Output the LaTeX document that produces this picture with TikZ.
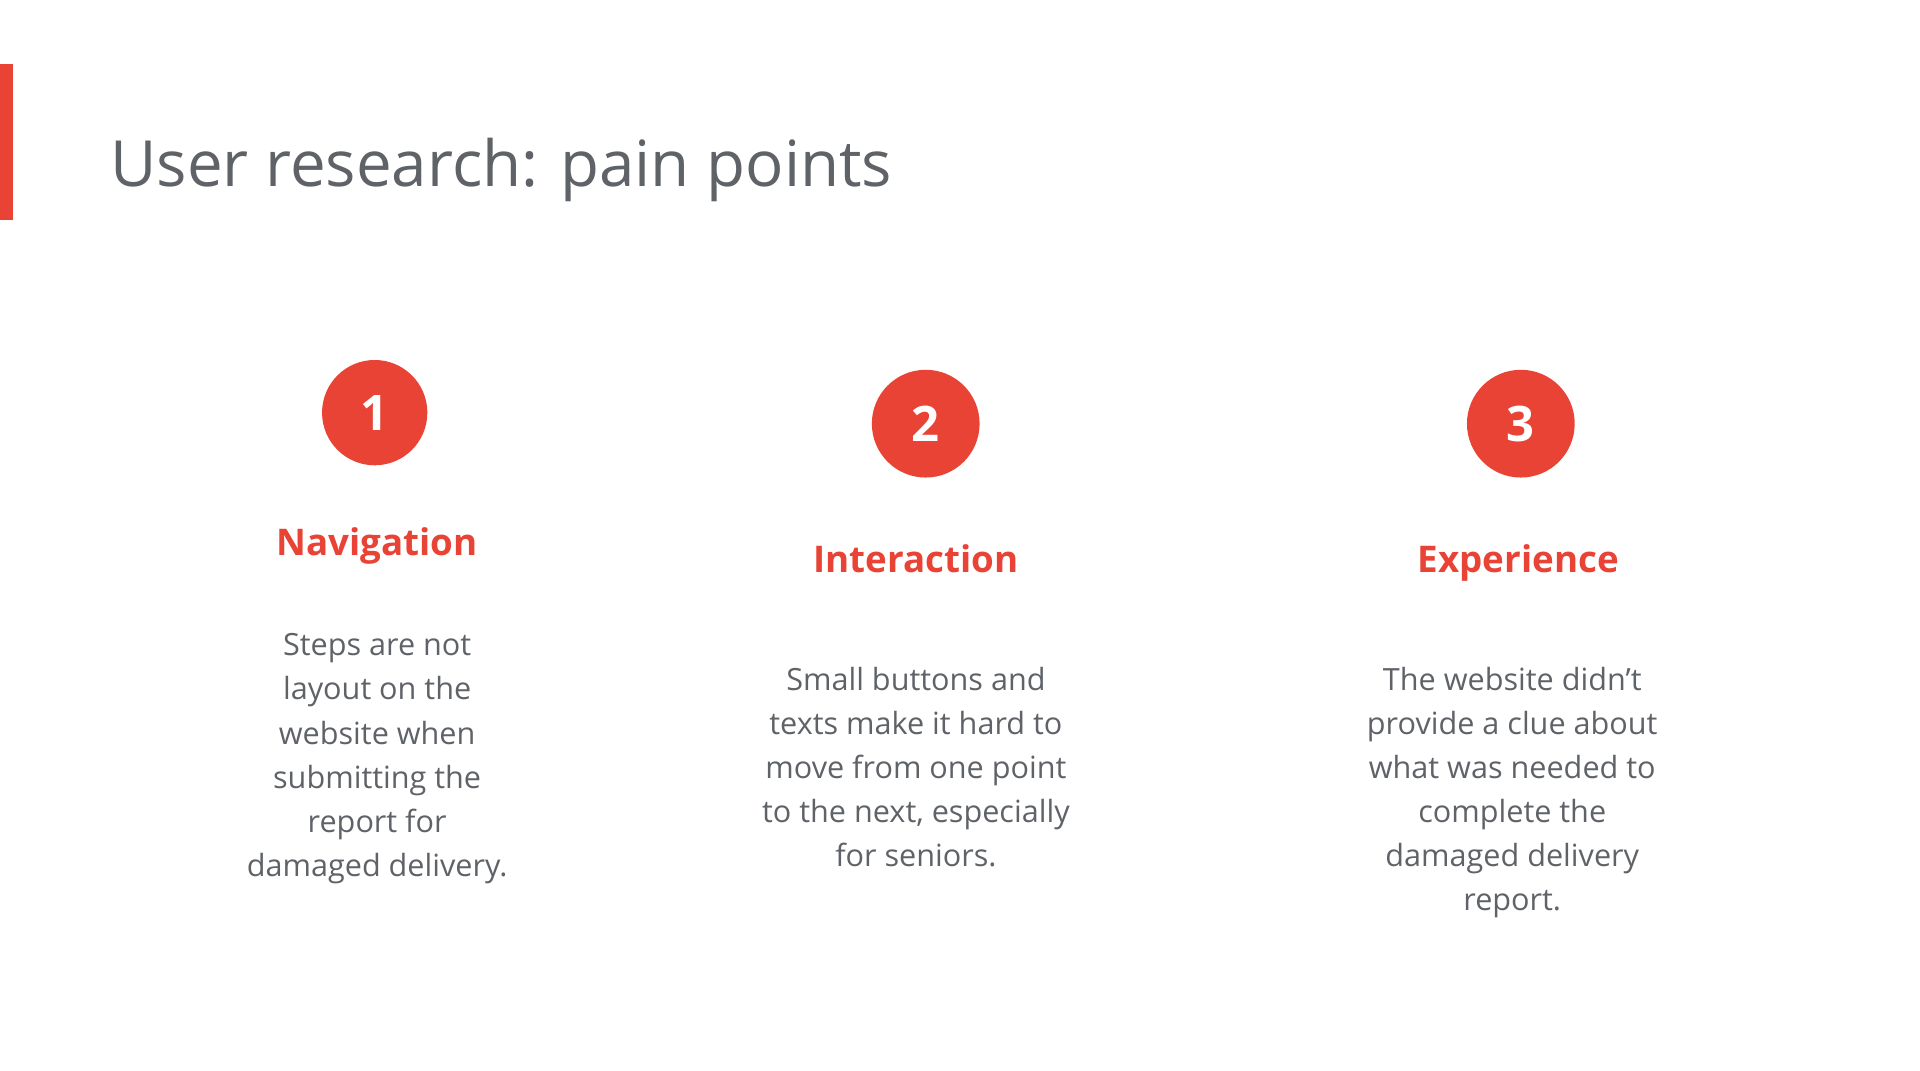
\documentclass[tikz,border=0pt]{standalone}
\usepackage{fontspec}
\setmainfont{Open Sans}
\definecolor{accent}{HTML}{E84335}
\definecolor{txt}{HTML}{5F6368}
\begin{document}
\begin{tikzpicture}[x=1pt,y=-1pt,
  num/.style={circle,fill=accent,text=white,minimum size=88pt,inner sep=0pt,font=\fontsize{40}{40}\selectfont\bfseries},
  head/.style={text=accent,font=\fontsize{30}{30}\selectfont\bfseries},
  body/.style={text=txt,align=center,font=\fontsize{25}{36}\selectfont,anchor=north}]
\useasboundingbox (0,0) rectangle (1568,874);
\fill[accent] (0,52) rectangle (11,180);
\node[anchor=base west,text=txt,font=\fontsize{52}{52}\selectfont,inner sep=0pt] (title) at (90,152) {User research: pain points};
\node[num,minimum size=86pt] (c1) at (306,337) {1};
\node[num] (c2) at (756,346) {2};
\node[num] (c3) at (1242,346) {3};
\node[head] (h1) at (308,446) {Navigation};
\node[head] (h2) at (748,456) {Interaction};
\node[head] (h3) at (1240,460) {Experience};
\node[body] (b1) at (308,514) {Steps are not\\layout on the\\website when\\submitting the\\report for\\damaged delivery.};
\node[body] (b2) at (748,541) {Small buttons and\\texts make it hard to\\move from one point\\to the next, especially\\for seniors.};
\node[body] (b3) at (1235,541) {The website didn’t\\provide a clue about\\what was needed to\\complete the\\damaged delivery\\report.};
\end{tikzpicture}
\end{document}
